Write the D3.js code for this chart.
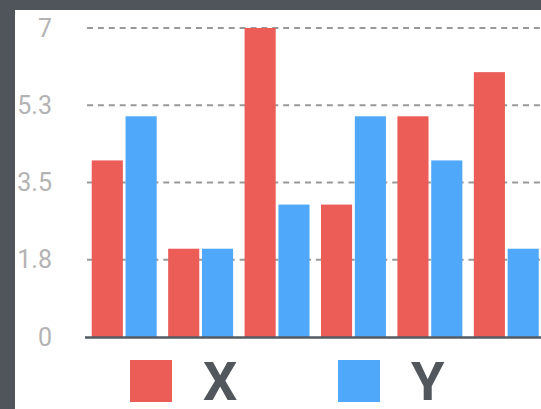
<!DOCTYPE html>
<html>
<head>
<meta charset="utf-8">
<script src="https://cdn.jsdelivr.net/npm/d3@7/dist/d3.min.js"></script>
<style>
  html, body { margin: 0; padding: 0; background: #50555c; }
  svg { display: block; }
</style>
</head>
<body>
<script>
// Grouped bar chart: two series per category
const categories = ["A", "B", "C", "D", "E", "F"];
const seriesNames = ["X", "Y"];
const valuesX = [4, 2, 7, 3, 5, 6];
const valuesY = [5, 2, 3, 5, 4, 2];
const tickValues = [0, 1.75, 3.5, 5.25, 7];
const tickLabels = ["0", "1.8", "3.5", "5.3", "7"];
const colors = ["#ed5d57", "#50a8fa"];

const W = 541, H = 409;
const svg = d3.select("body").append("svg").attr("width", W).attr("height", H);

// dark frame, white panel
svg.append("rect").attr("width", W).attr("height", H).attr("fill", "#50555c");
svg.append("rect").attr("x", 15).attr("y", 10).attr("width", W - 15).attr("height", H - 10).attr("fill", "#ffffff");

const x0 = d3.scaleBand().domain(categories).range([86, 544.5]).paddingInner(0.15).paddingOuter(0.075);
const x1 = d3.scaleBand().domain(seriesNames).range([0, x0.bandwidth()]).paddingInner(0.08);
const y = d3.scaleLinear().domain([0, 7]).range([337, 28]);
const color = d3.scaleOrdinal().domain(seriesNames).range(colors);

// dashed grid lines
svg.append("g").selectAll("line")
  .data(tickValues.filter(d => d > 0))
  .join("line")
  .attr("x1", 87).attr("x2", W)
  .attr("y1", d => y(d)).attr("y2", d => y(d))
  .attr("stroke", "#999999")
  .attr("stroke-width", 2.2)
  .attr("stroke-dasharray", "6,4.9");

// y axis labels
const yAxis = d3.axisLeft(y).tickValues(tickValues).tickFormat((d, i) => tickLabels[i]).tickSize(0).tickPadding(0);
const gy = svg.append("g").attr("transform", "translate(52,0)").call(yAxis);
gy.select(".domain").remove();
gy.selectAll("text")
  .attr("font-family", "Roboto, sans-serif")
  .attr("font-size", 25)
  .attr("fill", "#b3b3b3");

// bars
const rows = categories.map((c, i) => ({ cat: c, X: valuesX[i], Y: valuesY[i] }));
svg.append("g").selectAll("g")
  .data(rows)
  .join("g")
  .attr("transform", d => `translate(${x0(d.cat)},0)`)
  .selectAll("rect")
  .data(d => seriesNames.map(k => ({ key: k, value: d[k] })))
  .join("rect")
  .attr("x", d => x1(d.key))
  .attr("width", x1.bandwidth())
  .attr("y", d => y(d.value))
  .attr("height", d => y(0) - y(d.value))
  .attr("fill", d => color(d.key));

// baseline
svg.append("line")
  .attr("x1", 85).attr("x2", W)
  .attr("y1", y(0) + 0.5).attr("y2", y(0) + 0.5)
  .attr("stroke", "#555b62")
  .attr("stroke-width", 2.5);

// legend
const legendX = [130, 338];
const legend = svg.append("g").selectAll("g")
  .data(seriesNames)
  .join("g")
  .attr("transform", (d, i) => `translate(${legendX[i]},360)`);
legend.append("rect")
  .attr("width", 42).attr("height", 42)
  .attr("fill", d => color(d));
legend.append("text")
  .attr("x", 73).attr("y", 40)
  .attr("font-family", "Roboto, sans-serif")
  .attr("font-weight", "bold")
  .attr("font-size", 54)
  .attr("fill", "#52575d")
  .text(d => d);
</script>
</body>
</html>
